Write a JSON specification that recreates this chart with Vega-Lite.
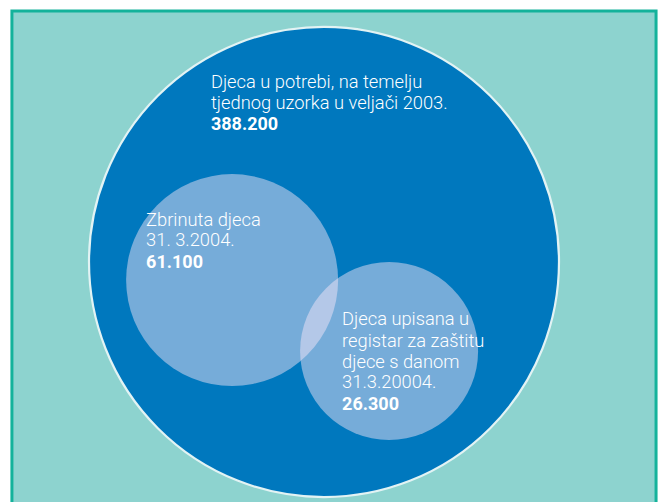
{
  "$schema": "https://vega.github.io/schema/vega-lite/v6.json",
  "width": 659,
  "height": 502,
  "autosize": {"type": "fit", "contains": "padding"},
  "padding": 0,
  "background": "#ffffff",
  "config": {"view": {"stroke": null}},
  "datasets": {
    "circles": [
      {"name": "Djeca u potrebi", "value": 388200, "cx": 0, "cy": 0, "kind": "big"},
      {"name": "Zbrinuta djeca", "value": 61100, "cx": -0.391, "cy": -0.077, "kind": "small"},
      {"name": "Djeca upisana u registar", "value": 26300, "cx": 0.277, "cy": -0.379, "kind": "small"}
    ],
    "labels": [
      {"text": "Djeca u potrebi, na temelju", "lx": -0.481, "ly": 0.739, "bold": false},
      {"text": "tjednog uzorka u veljači 2003.", "lx": -0.481, "ly": 0.649, "bold": false},
      {"text": "388.200", "lx": -0.481, "ly": 0.560, "bold": true},
      {"text": "Zbrinuta djeca", "lx": -0.757, "ly": 0.154, "bold": false},
      {"text": "31. 3.2004.", "lx": -0.757, "ly": 0.066, "bold": false},
      {"text": "61.100", "lx": -0.757, "ly": -0.026, "bold": true},
      {"text": "Djeca upisana u", "lx": 0.077, "ly": -0.268, "bold": false},
      {"text": "registar za zaštitu", "lx": 0.077, "ly": -0.360, "bold": false},
      {"text": "djece s danom", "lx": 0.077, "ly": -0.450, "bold": false},
      {"text": "31.3.20004.", "lx": 0.077, "ly": -0.538, "bold": false},
      {"text": "26.300", "lx": 0.077, "ly": -0.628, "bold": true}
    ]
  },
  "layer": [
    {
      "data": {"values": [{"frame": "okvir"}]},
      "mark": {"type": "rect", "fill": "#8dd3cf", "stroke": "#14b29b", "strokeWidth": 3, "clip": true},
      "encoding": {
        "x": {"datum": -1.328, "type": "quantitative", "scale": {"domain": [-1.3787, 1.4255], "nice": false, "zero": false}, "axis": null},
        "x2": {"datum": 1.413},
        "y": {"datum": 1.068, "type": "quantitative", "scale": {"domain": [-1.0213, 1.1149], "nice": false, "zero": false}, "axis": null},
        "y2": {"datum": -1.1}
      }
    },
    {
      "data": {"name": "circles"},
      "transform": [{"filter": "datum.kind === 'big'"}],
      "mark": {"type": "point", "shape": "circle", "filled": true, "fill": "#0078be", "fillOpacity": 1, "stroke": "#e2f3f4", "strokeWidth": 2.2, "strokeOpacity": 1, "opacity": 1},
      "encoding": {
        "x": {"field": "cx", "type": "quantitative", "axis": null},
        "y": {"field": "cy", "type": "quantitative", "axis": null},
        "size": {"field": "value", "type": "quantitative", "legend": null, "scale": {"type": "linear", "domain": [26300, 61100, 388200], "range": [31684, 44944, 220900]}}
      }
    },
    {
      "data": {"name": "circles"},
      "transform": [{"filter": "datum.kind === 'small'"}],
      "mark": {"type": "point", "shape": "circle", "filled": true, "fill": "#fae8f8", "fillOpacity": 0.47, "strokeWidth": 0, "opacity": 1},
      "encoding": {
        "x": {"field": "cx", "type": "quantitative", "axis": null},
        "y": {"field": "cy", "type": "quantitative", "axis": null},
        "size": {"field": "value", "type": "quantitative", "legend": null, "scale": {"type": "linear", "domain": [26300, 61100, 388200], "range": [31684, 44944, 220900]}}
      }
    },
    {
      "data": {"name": "labels"},
      "transform": [{"filter": "!datum.bold"}],
      "mark": {"type": "text", "align": "left", "baseline": "alphabetic", "font": "Roboto", "fontWeight": 300, "fontSize": 18.3, "color": "#ffffff"},
      "encoding": {
        "x": {"field": "lx", "type": "quantitative", "axis": null},
        "y": {"field": "ly", "type": "quantitative", "axis": null},
        "text": {"field": "text"}
      }
    },
    {
      "data": {"name": "labels"},
      "transform": [{"filter": "datum.bold"}],
      "mark": {"type": "text", "align": "left", "baseline": "alphabetic", "font": "Roboto", "fontWeight": "bold", "fontSize": 18, "color": "#ffffff"},
      "encoding": {
        "x": {"field": "lx", "type": "quantitative", "axis": null},
        "y": {"field": "ly", "type": "quantitative", "axis": null},
        "text": {"field": "text"}
      }
    }
  ]
}
